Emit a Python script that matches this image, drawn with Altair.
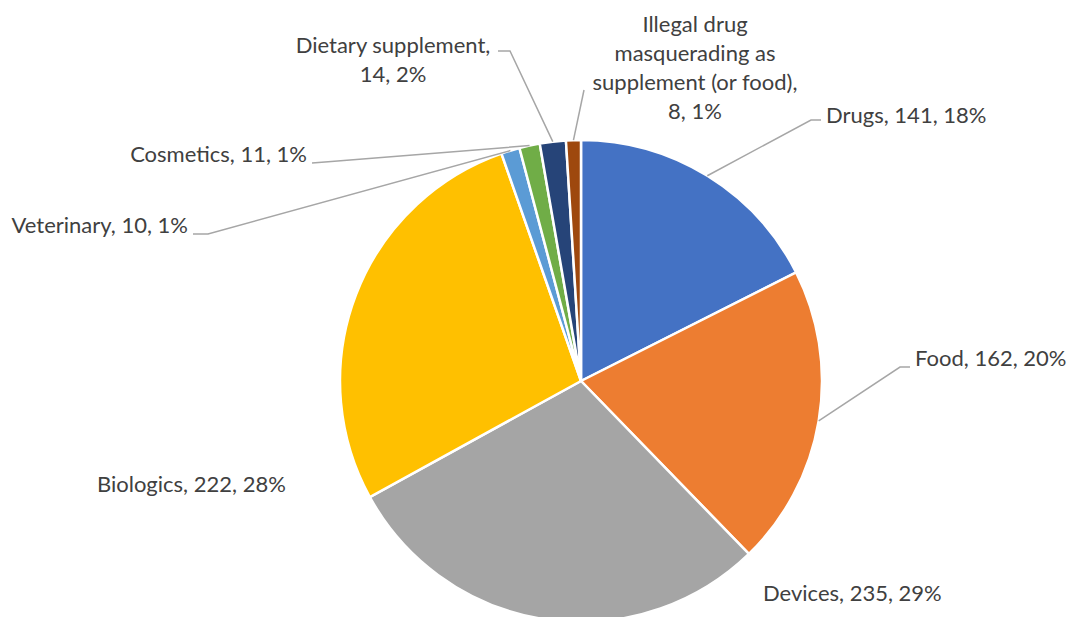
import math
import textwrap
import altair as alt
import pandas as pd

# ---- data ----
categories = ["Drugs", "Food", "Devices", "Biologics", "Veterinary", "Cosmetics",
              "Dietary supplement", "Illegal drug masquerading as supplement (or food)"]
counts = [141, 162, 235, 222, 10, 11, 14, 8]
colors = ["#4472C4", "#ED7D31", "#A5A5A5", "#FFC000", "#5B9BD5", "#70AD47", "#264478", "#9E480E"]

# ---- layout (page pixel coordinates) ----
OX, OY = 8, 8
W, H = 1060, 609
CX, CY, R = 581, 381, 241
FONT = "Lato"
FS = 22
LH = 29
# label anchor x, first baseline y, align, wrap width, leader elbow, leader end
label_layout = {
    "Drugs":      (826, 123, "left",   None, (811, 120), (821, 120)),
    "Food":       (915, 366, "left",   None, (900, 367), (910, 367)),
    "Devices":    (763, 601, "left",   None, None, None),
    "Biologics":  (97, 492, "left",    None, None, None),
    "Veterinary": (188, 233, "right",  None, (208, 234), (193, 234)),
    "Cosmetics":  (307, 162, "right",  None, (325, 162), (312, 163)),
    "Dietary supplement": (393, 53, "center", 20, (510, 51), (498, 51)),
    "Illegal drug masquerading as supplement (or food)": (695, 32, "center", 22, (584, 90), (584, 90)),
}

total = sum(counts)
pie_df = pd.DataFrame({"category": categories, "count": counts, "order": list(range(len(categories)))})

label_rows = []
leader_rows = []
cum = 0
for i, (c, v) in enumerate(zip(categories, counts)):
    pct = round(100 * v / total)
    text = f"{c}, {v}, {pct}%"
    lx, ly, align, wrap, elbow, end = label_layout[c]
    if wrap:
        text = "\n".join(textwrap.wrap(text, wrap))
    label_rows.append({"category": c, "label": text, "x": lx - OX, "y": ly - OY, "align": align})
    mid = (cum + v / 2) / total * 2 * math.pi
    cum += v
    if elbow is not None:
        sx = CX + R * math.sin(mid)
        sy = CY - R * math.cos(mid)
        for k, (px, py) in enumerate([(sx, sy), elbow, end]):
            leader_rows.append({"category": c, "seq": k, "x": px - OX, "y": py - OY})

label_df = pd.DataFrame(label_rows)
leader_df = pd.DataFrame(leader_rows)

pie = alt.Chart(pie_df).mark_arc(radius=R, stroke="white", strokeWidth=2.5).encode(
    theta=alt.Theta("count:Q", stack=True),
    order=alt.Order("order:Q"),
    color=alt.Color("category:N", scale=alt.Scale(domain=categories, range=colors), legend=None),
    x=alt.value(CX - OX),
    y=alt.value(CY - OY),
)

leaders = alt.Chart(leader_df).mark_line(color="#A6A6A6", strokeWidth=1.5).encode(
    x=alt.X("x:Q", scale=None),
    y=alt.Y("y:Q", scale=None),
    detail="category:N",
    order="seq:Q",
)

layers = [pie, leaders]
for al in ["left", "right", "center"]:
    sub = label_df[label_df["align"] == al]
    layers.append(
        alt.Chart(sub).mark_text(align=al, baseline="alphabetic", font=FONT, fontSize=FS,
                                 color="#404040", lineBreak="\n", lineHeight=LH).encode(
            x=alt.X("x:Q", scale=None),
            y=alt.Y("y:Q", scale=None),
            text="label:N",
        )
    )

chart = alt.layer(*layers).properties(
    width=W, height=H, padding=0, autosize=alt.AutoSizeParams(type="none")
).configure_view(stroke=None)

chart.save("out.html", embed_options={"renderer": "svg", "actions": False})
